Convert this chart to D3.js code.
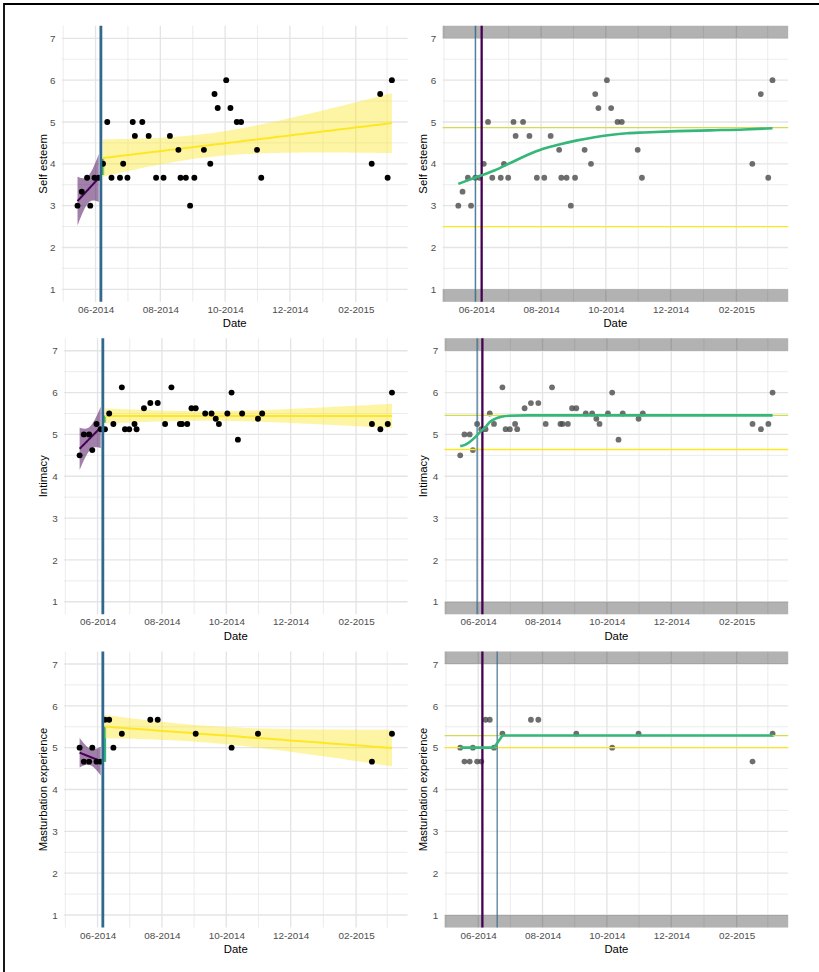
<!DOCTYPE html>
<html><head><meta charset="utf-8">
<script src="https://cdn.jsdelivr.net/npm/d3@7"></script>
<style>
body{margin:0;background:#fff}
svg{display:block}
text{font-family:"Liberation Sans",Arial,Helvetica,sans-serif}
</style>
</head><body>
<svg id="chart" width="819" height="972"></svg>
<script>
// ---------------- DATA ----------------
const dates = ["2014-05-15","2014-05-19","2014-05-24","2014-05-27","2014-05-31","2014-06-04","2014-06-08","2014-06-12","2014-06-16","2014-06-24","2014-06-27","2014-07-01","2014-07-06","2014-07-08","2014-07-15","2014-07-21","2014-07-28","2014-08-04","2014-08-10","2014-08-18","2014-08-20","2014-08-25","2014-08-29","2014-09-02","2014-09-11","2014-09-17","2014-09-21","2014-09-24","2014-10-02","2014-10-06","2014-10-12","2014-10-16","2014-10-31","2014-11-04","2015-02-16","2015-02-24","2015-03-03","2015-03-07"];
const selfEsteem = [3,3.333,3.667,3,3.667,3.667,4,5,3.667,3.667,4,3.667,5,4.667,5,4.667,3.667,3.667,4.667,4.333,3.667,3.667,3,3.667,4.333,4,5.667,5.333,6,5.333,5,5,4.333,3.667,4,5.667,3.667,6];
const intimacy = [4.5,5,5,4.625,5.25,5.125,5.125,5.5,5.25,6.125,5.125,5.125,5.25,5.125,5.625,5.75,5.75,5.25,6.125,5.25,5.25,5.25,5.625,5.625,5.5,5.5,5.375,5.25,5.5,6,4.875,5.5,5.375,5.5,5.25,5.125,5.25,6];
const mastDates = ["2014-05-15","2014-05-19","2014-05-24","2014-05-27","2014-05-31","2014-06-04","2014-06-08","2014-06-12","2014-06-16","2014-06-24","2014-07-21","2014-07-28","2014-09-02","2014-10-06","2014-10-31","2015-02-16","2015-03-07"];
const masturbation = [5,4.667,4.667,5,4.667,4.667,5.667,5.667,5,5.333,5.667,5.667,5.333,5,5.333,4.667,5.333];

const yTitles = ["Self esteem","Intimacy","Masturbation experience"];

// phase boundary (thick line) and change point estimates (thin line)
const phaseDates = ["2014-06-06","2014-06-06","2014-06-06"];
const changePhaseDates = ["2014-06-06","2014-06-05","2014-06-05"];
const changePointDates = ["2014-05-31","2014-05-31","2014-06-19"];

// short transitional (green) segment on the left panels
const bridgeDate = ["2014-06-08","2014-06-08","2014-06-08"];
const bridgeFrom = [3.73,5.28,4.66];
const bridgeTo = [4.12,5.45,5.50];

// fitted curves of the change-point model (right panels)
const fitSelfDates = ["2014-05-15","2014-06-02","2014-06-18","2014-07-03","2014-07-19","2014-08-03","2014-08-19","2014-09-04","2014-09-19","2014-10-05","2014-10-21","2014-11-06","2014-12-07","2015-01-07","2015-02-08","2015-03-07"];
const fitSelfValues = [3.52,3.69,3.84,4.02,4.21,4.36,4.47,4.56,4.63,4.69,4.73,4.75,4.78,4.80,4.82,4.85];
const fitIntDates = ["2014-05-15","2014-05-19","2014-05-24","2014-05-29","2014-06-03","2014-06-08","2014-06-12","2014-06-17","2014-06-23","2014-07-01","2014-07-17","2015-03-07"];
const fitIntValues = [4.72,4.745,4.82,4.93,5.06,5.18,5.295,5.37,5.42,5.446,5.454,5.455];
const fitMastDates = ["2014-05-15","2014-06-16","2014-06-24","2015-03-07"];
const fitMastValues = [5.0,5.0,5.29,5.29];

// estimated levels (horizontal lines, right panels)
const levelUpper = [4.865,5.455,5.29];
const levelLower = [2.5,4.64,5.0];

// axis ticks
const xTickDates = ["2014-06-01","2014-08-01","2014-10-01","2014-12-01","2015-02-01"];
const xTickLabels = ["06-2014","08-2014","10-2014","12-2014","02-2015"];
const xOuterBreaks = ["2014-04-01","2015-04-01"];
const yTicks = [1,2,3,4,5,6,7];
const yMinor = [1.5,2.5,3.5,4.5,5.5,6.5];

// two-sided 95% t quantiles
const T975 = {1:12.706,2:4.303,3:3.182,4:2.776,5:2.571,6:2.447,7:2.365,8:2.306,9:2.262,10:2.228,11:2.201,12:2.179,13:2.160,14:2.145,15:2.131,16:2.120,17:2.110,18:2.101,19:2.093,20:2.086,21:2.080,22:2.074,23:2.069,24:2.064,25:2.060,26:2.056,27:2.052,28:2.048,29:2.045,30:2.042,31:2.040,32:2.037,33:2.035,34:2.032,35:2.030,36:2.028,37:2.026,38:2.024};

// ---------------- SETUP ----------------
const parse = d3.timeParse("%Y-%m-%d");
const P = s => parse(s);
const COL = {purple:"#440154", blue:"#31688E", green:"#35B779", yellow:"#FDE725"};
const GRID = "#E4E4E4";
const FONT = "'Liberation Sans',Arial,sans-serif";
const svg = d3.select("#chart");
svg.append("rect").attr("width",819).attr("height",972).attr("fill","#fff");
svg.append("path").attr("d","M4,972V4H819").attr("fill","none").attr("stroke","#000").attr("stroke-width",1.8);

const allD = dates.map(P);
const ext = d3.extent(allD);
const span = ext[1]-ext[0];
const xDomain = [new Date(+ext[0]-0.05*span), new Date(+ext[1]+0.05*span)];
const majors = xTickDates.map(P);
const allBreaks = [P(xOuterBreaks[0]), ...majors, P(xOuterBreaks[1])];
const minors = d3.pairs(allBreaks).map(([a,b]) => new Date((+a + +b)/2));

const rows = [
  {top:25.75, L:[61.8,442.6]},
  {top:338.2, L:[64.0,444.6]},
  {top:651.45,L:[64.0,444.6]}
];
const RIGHT = [407.6, 788.2];
const H = 276.1;

const series = [
  {d:dates.map(P), v:selfEsteem},
  {d:dates.map(P), v:intimacy},
  {d:mastDates.map(P), v:masturbation}
];
const fits = [
  {d:fitSelfDates.map(P), v:fitSelfValues},
  {d:fitIntDates.map(P), v:fitIntValues},
  {d:fitMastDates.map(P), v:fitMastValues}
];

function lmBand(pts){
  const n = pts.length;
  const xs = pts.map(p=>+p.d/864e5), ys = pts.map(p=>p.v);
  const mx = d3.mean(xs), my = d3.mean(ys);
  let sxx=0, sxy=0;
  xs.forEach((x,i)=>{sxx+=(x-mx)*(x-mx); sxy+=(x-mx)*(ys[i]-my);});
  const b = sxy/sxx, a = my-b*mx;
  let ssr=0; xs.forEach((x,i)=>{const r=ys[i]-(a+b*x); ssr+=r*r;});
  const s = Math.sqrt(ssr/(n-2));
  const t = T975[n-2];
  const [x0,x1] = d3.extent(xs);
  const out=[];
  for(let k=0;k<80;k++){
    const x = x0+(x1-x0)*k/79;
    const f = a+b*x;
    const se = s*Math.sqrt(1/n+(x-mx)*(x-mx)/sxx);
    out.push({d:new Date(x*864e5), f, lo:f-t*se, hi:f+t*se});
  }
  return out;
}

function panelBase(g, x, y, L, R, top){
  g.selectAll(null).data(yMinor).join("line")
    .attr("x1",L).attr("x2",R).attr("y1",d=>y(d)).attr("y2",d=>y(d))
    .attr("stroke",GRID).attr("stroke-width",0.7);
  g.selectAll(null).data(minors.filter(d=>d>=xDomain[0]&&d<=xDomain[1])).join("line")
    .attr("y1",top).attr("y2",top+H).attr("x1",d=>x(d)).attr("x2",d=>x(d))
    .attr("stroke",GRID).attr("stroke-width",0.7);
  g.selectAll(null).data(yTicks).join("line")
    .attr("x1",L).attr("x2",R).attr("y1",d=>y(d)).attr("y2",d=>y(d))
    .attr("stroke",GRID).attr("stroke-width",1.35);
  g.selectAll(null).data(majors).join("line")
    .attr("y1",top).attr("y2",top+H).attr("x1",d=>x(d)).attr("x2",d=>x(d))
    .attr("stroke",GRID).attr("stroke-width",1.35);
}

function panelAxes(g, x, y, L, top, title, titleX){
  const ax = g.append("g").attr("transform",`translate(0,${top+H})`)
    .call(d3.axisBottom(x).tickValues(majors).tickFormat((d,i)=>xTickLabels[i]).tickSize(0).tickPadding(4.1));
  ax.select(".domain").remove();
  ax.selectAll("text").attr("fill","#4D4D4D").style("font-size","9.9px").style("font-family",FONT);
  const ay = g.append("g").attr("transform",`translate(${L},0)`)
    .call(d3.axisLeft(y).tickValues(yTicks).tickFormat(d3.format("d")).tickSize(0).tickPadding(6.3));
  ay.select(".domain").remove();
  ay.selectAll("text").attr("fill","#4D4D4D").style("font-size","9.9px").style("font-family",FONT);
  const R = x.range()[1];
  g.append("text").attr("x",(L+R)/2).attr("y",top+H+21.3).attr("text-anchor","middle")
    .attr("dominant-baseline","central").style("font-size","11.3px").attr("fill","#000").text("Date");
  g.append("text").attr("transform",`translate(${titleX},${top+H/2}) rotate(-90)`)
    .attr("text-anchor","middle").attr("dominant-baseline","central").style("font-size","11.3px").attr("fill","#000").text(title);
}

rows.forEach((row, r) => {
  const top = row.top;
  const s = series[r];
  const pts = s.d.map((d,i)=>({d, v:s.v[i]}));

  // ---------- LEFT PANEL ----------
  {
    const L = row.L[0], R = RIGHT[0];
    const x = d3.scaleTime().domain(xDomain).range([L,R]);
    const y = d3.scaleLinear().domain([0.7,7.3]).range([top+H, top]);
    const g = svg.append("g");
    panelBase(g, x, y, L, R, top);

    const split = P(phaseDates[r]);
    const pre = pts.filter(p=>p.d<split), post = pts.filter(p=>p.d>split);
    const area = d3.area().x(d=>x(d.d)).y0(d=>y(d.lo)).y1(d=>y(d.hi));
    const line = d3.line().x(d=>x(d.d)).y(d=>y(d.f));

    const bPre = lmBand(pre);
    g.append("path").attr("d",area(bPre)).attr("fill",COL.purple).attr("fill-opacity",0.5);
    g.append("path").attr("d",line(bPre)).attr("fill","none").attr("stroke",COL.purple).attr("stroke-width",2);

    const bd = P(bridgeDate[r]);
    g.append("line").attr("x1",x(bd)).attr("x2",x(bd)).attr("y1",y(bridgeFrom[r])).attr("y2",y(bridgeTo[r]))
      .attr("stroke",COL.green).attr("stroke-width",2.4);

    const bPost = lmBand(post);
    g.append("path").attr("d",area(bPost)).attr("fill",COL.yellow).attr("fill-opacity",0.42);
    g.append("path").attr("d",line(bPost)).attr("fill","none").attr("stroke",COL.yellow).attr("stroke-width",2);

    g.selectAll(null).data(pts).join("circle")
      .attr("cx",d=>x(d.d)).attr("cy",d=>y(d.v)).attr("r",2.95).attr("fill","#000");

    g.append("line").attr("x1",x(split)).attr("x2",x(split)).attr("y1",top).attr("y2",top+H)
      .attr("stroke",COL.blue).attr("stroke-width",2.8);

    panelAxes(g, x, y, L, top, yTitles[r], 42.7);
  }

  // ---------- RIGHT PANEL ----------
  {
    const L = row.L[1], R = RIGHT[1];
    const x = d3.scaleTime().domain(xDomain).range([L,R]);
    const y = d3.scaleLinear().domain([0.7,7.3]).range([top+H, top]);
    const g = svg.append("g");
    panelBase(g, x, y, L, R, top);

    g.append("rect").attr("x",L).attr("width",R-L).attr("y",y(7.3)).attr("height",y(7)-y(7.3))
      .attr("fill","#000").attr("fill-opacity",0.3);
    g.append("rect").attr("x",L).attr("width",R-L).attr("y",y(1)).attr("height",y(0.7)-y(1))
      .attr("fill","#000").attr("fill-opacity",0.3);

    g.selectAll(null).data(pts).join("circle")
      .attr("cx",d=>x(d.d)).attr("cy",d=>y(d.v)).attr("r",2.9).attr("fill","#4a4a4a").attr("fill-opacity",0.8);

    g.append("line").attr("x1",L).attr("x2",R).attr("y1",y(levelUpper[r])).attr("y2",y(levelUpper[r]))
      .attr("stroke","#D2DC50").attr("stroke-width",1.3);
    g.append("line").attr("x1",L).attr("x2",R).attr("y1",y(levelLower[r])).attr("y2",y(levelLower[r]))
      .attr("stroke",COL.yellow).attr("stroke-width",1.3);

    const cp = P(changePointDates[r]);
    g.append("line").attr("x1",x(cp)).attr("x2",x(cp)).attr("y1",top).attr("y2",top+H)
      .attr("stroke",COL.blue).attr("stroke-width",1.1);
    const ph = P(changePhaseDates[r]);
    g.append("line").attr("x1",x(ph)).attr("x2",x(ph)).attr("y1",top).attr("y2",top+H)
      .attr("stroke",COL.purple).attr("stroke-width",2.3);

    const f = fits[r];
    const fl = d3.line().curve(r===2?d3.curveLinear:d3.curveMonotoneX).x((d,i)=>x(f.d[i])).y(d=>y(d));
    g.append("path").attr("d",fl(f.v)).attr("fill","none").attr("stroke",COL.green).attr("stroke-width",2.6);

    panelAxes(g, x, y, L, top, yTitles[r], 422.7);
  }
});
</script>
</body></html>
